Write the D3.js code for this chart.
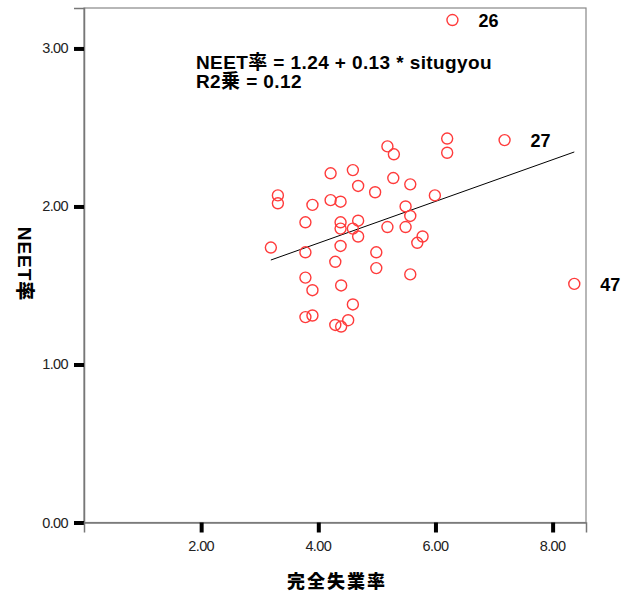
<!DOCTYPE html>
<html lang="ja">
<head>
<meta charset="UTF-8">
<title>NEET率 vs 完全失業率</title>
<style>
    body { margin: 0; background: #fff; }
    text { font-family: "Liberation Sans", "Noto Sans CJK JP", sans-serif; }
    .pt { fill: none; stroke: #ff3b3b; stroke-width: 1.4px; }
</style>
</head>
<body>
<div id="chart"></div>
<script src="https://d3js.org/d3.v7.min.js"></script>
<script>
"use strict";

// 完全失業率 (x) and NEET率 (y) for the 47 prefectures
const situgyou = [6.29, 7.18, 8.37, 6.20, 6.20, 5.18, 5.29, 4.21, 4.59, 4.68,
                  5.28, 5.57, 4.97, 5.99, 4.21, 4.38, 3.90, 3.31, 3.31, 3.78,
                  3.19, 3.78, 3.78, 3.90, 3.78, 3.90, 4.29, 4.39, 4.51, 4.59,
                  4.39, 4.38, 4.38, 4.68, 4.59, 4.68, 5.18, 5.49, 5.57, 5.49,
                  5.78, 5.69, 4.38, 4.29, 4.99, 4.99, 5.57];
const neet = [3.18, 2.42, 1.51, 2.43, 2.34, 2.38, 2.33, 2.21, 2.23, 2.13,
              2.18, 2.14, 2.09, 2.07, 2.04, 2.03, 2.01, 2.07, 2.02, 1.90,
              1.74, 1.71, 1.55, 1.47, 1.30, 1.31, 1.25, 1.24, 1.28, 1.38,
              1.50, 1.90, 1.86, 1.91, 1.86, 1.81, 1.87, 2.00, 1.94, 1.87,
              1.81, 1.77, 1.75, 1.65, 1.71, 1.61, 1.57];
// labelled outliers (index into arrays -> case number)
const labelIdx = [0, 1, 2];
const labelText = ["26", "27", "47"];

const xTicks = [2, 4, 6, 8];
const yTicks = [0, 1, 2, 3];

const fit = { intercept: 1.24, slope: 0.132, r2: 0.12 };

const width = 636, height = 596;
const margin = { top: 8, right: 50, bottom: 74, left: 84 };

const svg = d3.select("#chart").append("svg")
    .attr("width", width)
    .attr("height", height);

const x = d3.scaleLinear().domain([0, 8.57]).range([margin.left, width - margin.right]);
const y = d3.scaleLinear().domain([0, 3.256]).range([height - margin.bottom + 0.5, margin.top]);
const fmt = d3.format(".2f");

// frame
svg.append("rect")
    .attr("x", x(0)).attr("y", y.range()[1])
    .attr("width", x.range()[1] - x(0))
    .attr("height", y.range()[0] - y.range()[1])
    .attr("fill", "none")
    .attr("stroke", "#888")
    .attr("stroke-width", 1.2);

function styleAxis(g) {
    g.select(".domain").attr("stroke", "#777").attr("stroke-width", 1.5);
    g.selectAll("line").attr("stroke", "#000").attr("stroke-width", 4);
}

// axes (ticks from d3, labels drawn separately)
svg.append("g")
    .attr("transform", "translate(" + x(0) + ",0)")
    .call(d3.axisLeft(y).tickValues(yTicks).tickSize(10).tickFormat(""))
    .call(styleAxis);

svg.append("g")
    .attr("transform", "translate(0," + y(0) + ")")
    .call(d3.axisBottom(x).tickValues(xTicks).tickSize(10).tickFormat(""))
    .call(styleAxis);

svg.selectAll(".ylab")
    .data(yTicks)
    .enter().append("text")
    .attr("class", "ylab")
    .attr("x", x(0) - 16)
    .attr("y", d => y(d) + 5)
    .attr("text-anchor", "end")
    .style("font-size", "14.5px")
    .style("letter-spacing", "-0.6px")
    .attr("fill", "#222")
    .text(fmt);

svg.selectAll(".xlab")
    .data(xTicks)
    .enter().append("text")
    .attr("class", "xlab")
    .attr("x", d => x(d))
    .attr("y", y(0) + 28)
    .attr("text-anchor", "middle")
    .style("font-size", "14.5px")
    .style("letter-spacing", "-0.6px")
    .attr("fill", "#222")
    .text(fmt);

// regression line
const xExt = d3.extent(situgyou);
svg.append("line")
    .attr("x1", x(xExt[0])).attr("y1", y(fit.intercept + fit.slope * xExt[0]))
    .attr("x2", x(xExt[1])).attr("y2", y(fit.intercept + fit.slope * xExt[1]))
    .attr("stroke", "#000")
    .attr("stroke-width", 1);

// points
svg.selectAll(".pt")
    .data(situgyou.map((v, i) => [v, neet[i]]))
    .enter().append("circle")
    .attr("class", "pt")
    .attr("cx", d => x(d[0]))
    .attr("cy", d => y(d[1]))
    .attr("r", 5.5);

// case labels
svg.selectAll(".case-label")
    .data(labelIdx)
    .enter().append("text")
    .attr("class", "case-label")
    .style("font-size", "18px")
    .style("font-weight", "bold")
    .attr("x", i => x(situgyou[i]) + 26)
    .attr("y", i => y(neet[i]) + 7)
    .text((i, k) => labelText[k]);

// equation
svg.append("text")
    .style("font-size", "19px").style("font-weight", "bold")
    .style("letter-spacing", "0.4px")
    .attr("x", 196).attr("y", 69)
    .text("NEET率 = " + fit.intercept.toFixed(2) + " + " + fit.slope.toFixed(2) + " * situgyou");
svg.append("text")
    .style("font-size", "19px").style("font-weight", "bold")
    .style("letter-spacing", "0.4px")
    .attr("x", 196).attr("y", 88)
    .text("R2乗 = " + fit.r2.toFixed(2));

// axis titles
svg.append("text")
    .style("font-size", "18px").style("font-weight", "900")
    .attr("text-anchor", "middle")
    .attr("letter-spacing", "2px")
    .attr("x", (x.range()[0] + x.range()[1]) / 2 + 2)
    .attr("y", 588)
    .text("完全失業率");

svg.append("text")
    .style("font-size", "19px").style("font-weight", "900")
    .attr("text-anchor", "middle")
    .attr("letter-spacing", "1px")
    .attr("transform", "translate(18,264) rotate(90)")
    .text("NEET率");
</script>
</body>
</html>
